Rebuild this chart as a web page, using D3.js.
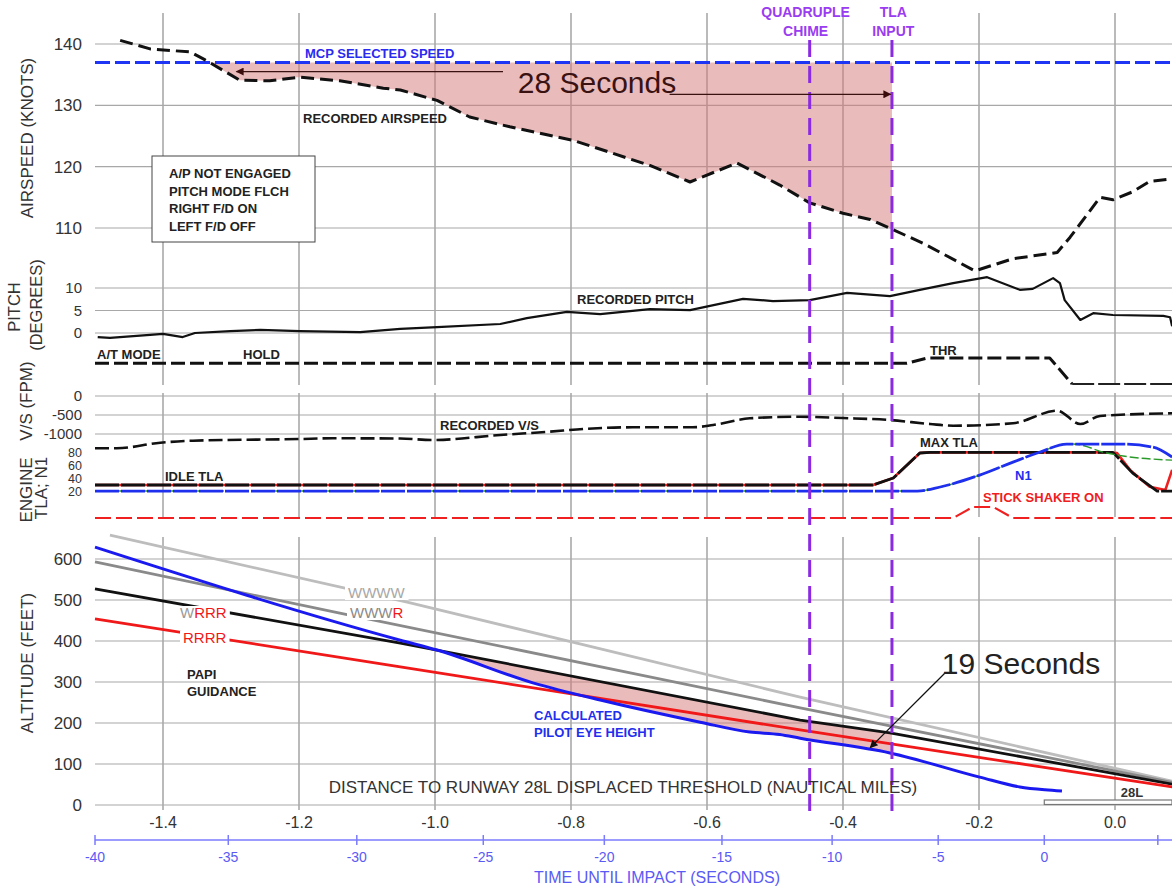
<!DOCTYPE html>
<html>
<head>
<meta charset="utf-8">
<script src="https://cdn.jsdelivr.net/npm/d3@7"></script>
<style>
  body { margin: 0; background: #fff; }
  svg { display: block; font-family: "Liberation Sans", Arial, sans-serif; }
</style>
</head>
<body>
<svg id="chart" width="1172" height="890"></svg>
<script>
// distance to threshold (NM) is the shared x value of every series
const distTicks = [-1.4, -1.2, -1.0, -0.8, -0.6, -0.4, -0.2, 0.0];
const timeTicks = [-40, -35, -30, -25, -20, -15, -10, -5, 0, 5];
const timeTickNM = [-1.5, -1.304, -1.115, -0.929, -0.751, -0.578, -0.416, -0.260, -0.104, 0.063];
const airspeedTicks = [110, 120, 130, 140];
const pitchTicks = [0, 5, 10];
const vsTicks = [0, -500, -1000];
const engineTicks = [20, 40, 60, 80];
const altitudeTicks = [0, 100, 200, 300, 400, 500, 600];

const mcpSpeed = 137;
const quadChimeNM = -0.449;
const tlaInputNM = -0.328;
const speedShadeStartNM = -1.332;
const altShadeStartNM = -0.997;

const airspeedNM  = [-1.463, -1.419, -1.360, -1.338, -1.287, -1.243, -1.199, -1.140, -1.076, -1.051, -0.997, -0.949, -0.890, -0.797, -0.684, -0.625, -0.556, -0.493, -0.449, -0.400, -0.360, -0.328, -0.282, -0.206, -0.150, -0.085, -0.066, -0.022, -0.003, 0.026, 0.051, 0.084];
const airspeedKts = [140.6, 139.2, 138.7, 137.4, 134.1, 134.0, 134.6, 134.0, 132.8, 132.5, 130.8, 128.1, 126.5, 124.3, 120.2, 117.5, 120.6, 117.0, 114.1, 112.4, 111.4, 109.8, 107.5, 103.0, 105.0, 106.0, 108.5, 115.0, 114.6, 115.9, 117.6, 118.0];

const pitchNM  = [-1.496, -1.478, -1.419, -1.400, -1.371, -1.353, -1.301, -1.257, -1.199, -1.110, -1.051, -0.997, -0.904, -0.865, -0.806, -0.757, -0.684, -0.625, -0.547, -0.503, -0.449, -0.394, -0.331, -0.287, -0.238, -0.188, -0.140, -0.121, -0.091, -0.081, -0.074, -0.051, -0.032, -0.003, 0.071, 0.081, 0.084];
const pitchDeg = [-0.9, -1.1, -0.4, -0.2, -0.9, 0.0, 0.4, 0.7, 0.4, 0.2, 0.9, 1.3, 2.0, 3.3, 4.7, 4.2, 5.3, 5.1, 7.6, 7.1, 7.3, 8.9, 8.2, 9.6, 11.1, 12.4, 9.6, 9.8, 12.2, 11.1, 7.3, 2.9, 4.4, 4.0, 3.8, 3.5, 1.5];

// A/T mode as a level: 0 = off, 0.8 = HOLD, 1 = THR
const atModeNM    = [-1.5, -0.306, -0.276, -0.096, -0.063, 0.084];
const atModeLevel = [0.8, 0.8, 1, 1, 0, 0];

const vsNM  = [-1.5, -1.468, -1.404, -1.356, -1.199, -1.150, -1.051, -1.003, -0.904, -0.831, -0.782, -0.709, -0.621, -0.591, -0.537, -0.463, -0.400, -0.331, -0.272, -0.238, -0.150, -0.085, -0.051, -0.022, 0.084];
const vsFpm = [-1376, -1376, -1229, -1176, -1132, -1113, -1120, -1158, -1026, -939, -868, -824, -824, -763, -587, -545, -580, -632, -737, -782, -718, -387, -737, -526, -455];

const tlaLeftNM  = [-1.5, -0.356, -0.326, -0.287, -0.272, -0.003, 0.026, 0.062, 0.084];
const tlaLeft    = [30.8, 30.8, 41.5, 80, 81, 81, 49, 21.5, 21.5];
const tlaRightNM = [-1.5, -0.356, -0.326, -0.287, -0.272, -0.012, 0.003, 0.022, 0.051, 0.074, 0.084];
const tlaRight   = [30.8, 30.8, 41.5, 80, 81, 81, 80, 54, 28, 23, 54];
const n1LeftNM   = [-1.5, -0.291, -0.257, -0.199, -0.150, -0.110, -0.071, 0.012, 0.056, 0.084];
const n1Left     = [21.5, 21.5, 27.7, 46, 66, 81.5, 93.8, 93.8, 89, 73.8];
const n1RightNM  = [-1.5, -0.291, -0.257, -0.199, -0.150, -0.110, -0.071, -0.062, -0.012, 0.012, 0.084];
const n1Right    = [21.5, 21.5, 27.7, 46, 66, 81.5, 93.8, 93.8, 80, 75.4, 69];
const shakerNM   = [-1.5, -0.238, -0.209, -0.179, -0.150, 0.084];
const shakerOn   = [0, 0, 1, 1, 0, 0];

// PAPI guidance lines and calculated eye height (feet)
const papiWWWWnm = [-1.478, -1.041, -0.463, 0.084];
const papiWWWW   = [658, 495, 263, 58];
const papiWWWRnm = [-1.5, -1.140, -0.463, 0.084];
const papiWWWR   = [593, 468, 237, 55];
const papiWRRRnm = [-1.5, -1.051, -0.463, -0.331, 0.084];
const papiWRRR   = [527, 395, 207, 176, 51];
const papiRRRRnm = [-1.5, -1.051, -0.463, 0.084];
const papiRRRR   = [454, 337, 183, 44];
const eyeNM = [-1.5, -1.051, -0.997, -0.856, -0.757, -0.610, -0.537, -0.493, -0.463, -0.331, -0.199, -0.140, -0.103, -0.078];
const eyeFt = [629, 402, 378, 298, 256, 202, 178, 172, 163, 127, 68, 44, 37, 34];

const runwayStartNM = -0.104;

main();

function main() {
  const svg = d3.select("#chart");
  const x = d3.scaleLinear().domain([-1.5, 0]).range([95, 1115]);
  const right = 1172;

  const yAir = d3.scaleLinear().domain([110, 140]).range([228, 44]);
  const yPitch = d3.scaleLinear().domain([0, 10]).range([333, 288]);
  const yAt = d3.scaleLinear().domain([0, 1]).range([384, 358]);
  const yVS = d3.scaleLinear().domain([-1000, 0]).range([434, 396]);
  const yEng = d3.scaleLinear().domain([20, 80]).range([492, 453]);
  const yShake = d3.scaleLinear().domain([0, 1]).range([518, 507]);
  const yAlt = d3.scaleLinear().domain([0, 600]).range([805, 559]);

  const zip = (a, b) => a.map((v, i) => [v, b[i]]);
  const grid = svg.append("g");

  // vertical grid, one span per panel group
  const spans = [[13, 385], [393, 517], [537, 810]];
  for (let s of spans) {
    grid.selectAll(null).data(distTicks).join("line")
      .attr("x1", d => x(d)).attr("x2", d => x(d))
      .attr("y1", s[0]).attr("y2", s[1])
      .attr("stroke", "#8c8c8c").attr("stroke-width", 1.2);
  }

  function hGrid(ticks, y, fmt, size, labelX = 82) {
    grid.selectAll(null).data(ticks).join("line")
      .attr("x1", 95).attr("x2", right)
      .attr("y1", d => y(d)).attr("y2", d => y(d))
      .attr("stroke", "#a8a8a8").attr("stroke-width", 1.2);
    svg.selectAll(null).data(ticks).join("text")
      .attr("x", labelX).attr("y", d => y(d))
      .attr("dy", "0.35em").attr("text-anchor", "end")
      .attr("font-size", size).attr("fill", "#333")
      .text(fmt);
  }
  hGrid(airspeedTicks, yAir, d => d, 17);
  hGrid(pitchTicks, yPitch, d => d, 15);
  hGrid(vsTicks, yVS, d => d, 15);
  hGrid(altitudeTicks, yAlt, d => d, 17);
  svg.selectAll(null).data(engineTicks).join("text")
    .attr("x", 82).attr("y", d => yEng(d)).attr("dy", "0.35em")
    .attr("text-anchor", "end").attr("font-size", 12.5).attr("fill", "#333")
    .text(d => d);

  // y axis titles
  const titles = [
    ["AIRSPEED (KNOTS)", 27, 138, 17],
    ["PITCH", 14, 307, 16.5],
    ["(DEGREES)", 36, 305, 16.5],
    ["V/S (FPM)", 26, 401, 17],
    ["ENGINE", 26, 490, 17],
    ["TLA; N1", 41, 488, 17],
    ["ALTITUDE (FEET)", 27, 663, 17]
  ];
  for (let t of titles) {
    svg.append("text")
      .attr("transform", `translate(${t[1] + 6},${t[2]}) rotate(-90)`)
      .attr("text-anchor", "middle").attr("font-size", t[3]).attr("fill", "#333")
      .text(t[0]);
  }

  // airspeed shading: MCP speed down to recorded airspeed, until TLA input
  const airAt = d3.scaleLinear().domain(airspeedNM).range(airspeedKts);
  const speedShade = [speedShadeStartNM, ...airspeedNM.filter(d => d > speedShadeStartNM && d < tlaInputNM), tlaInputNM];
  svg.append("path")
    .attr("d", d3.area().x(d => x(d)).y0(yAir(mcpSpeed)).y1(d => yAir(airAt(d)))(speedShade))
    .attr("fill", "rgba(214,120,120,0.5)");

  // altitude shading between WRRR path and eye height
  const blackAt = d3.scaleLinear().domain(papiWRRRnm).range(papiWRRR);
  const eyeAt = d3.scaleLinear().domain(eyeNM).range(eyeFt);
  const altShade = [altShadeStartNM, ...eyeNM.concat(papiWRRRnm).filter(d => d > altShadeStartNM && d < tlaInputNM).sort((a, b) => a - b), tlaInputNM];
  svg.append("path")
    .attr("d", d3.area().x(d => x(d)).y0(d => yAlt(blackAt(d))).y1(d => yAlt(eyeAt(d)))(altShade))
    .attr("fill", "rgba(214,120,120,0.5)");

  function drawLine(data, y, color, width, dash, curve = d3.curveLinear) {
    return svg.append("path")
      .attr("d", d3.line().x(d => x(d[0])).y(d => y(d[1])).curve(curve)(data))
      .attr("fill", "none").attr("stroke", color).attr("stroke-width", width)
      .attr("stroke-dasharray", dash).attr("stroke-linejoin", "round");
  }

  // MCP selected speed
  svg.append("line")
    .attr("x1", 95).attr("x2", right)
    .attr("y1", yAir(mcpSpeed)).attr("y2", yAir(mcpSpeed))
    .attr("stroke", "#1f35f5").attr("stroke-width", 3).attr("stroke-dasharray", "15,5");

  drawLine(zip(airspeedNM, airspeedKts), yAir, "#111", 3, "13,6");
  drawLine(zip(pitchNM, pitchDeg), yPitch, "#111", 2.2, null);
  const atData = zip(atModeNM, atModeLevel);
  drawLine(atData.slice(0, 5), yAt, "#111", 3, "14,5");
  drawLine(atData.slice(4), yAt, "#222", 1.8, "22,4");
  drawLine(zip(vsNM, vsFpm), yVS, "#111", 2.6, "14,5", d3.curveMonotoneX);

  // engine
  drawLine(zip(tlaRightNM, tlaRight), yEng, "#f02020", 2.6, null);
  drawLine(zip(tlaLeftNM, tlaLeft), yEng, "#111", 2.8, "24,2");
  drawLine(zip(n1RightNM, n1Right), yEng, "#2a9a2a", 1.4, "9,3", d3.curveMonotoneX);
  drawLine(zip(n1LeftNM, n1Left), yEng, "#1f2fee", 2.8, "24,2", d3.curveMonotoneX);
  drawLine(zip(shakerNM, shakerOn), yShake, "#f02020", 2.2, "16,5");

  // altitude
  drawLine(zip(papiWWWWnm, papiWWWW), yAlt, "#bdbdbd", 2.8, null);
  drawLine(zip(papiWWWRnm, papiWWWR), yAlt, "#8a8a8a", 2.8, null);
  drawLine(zip(papiWRRRnm, papiWRRR), yAlt, "#111", 2.8, null);
  drawLine(zip(papiRRRRnm, papiRRRR), yAlt, "#f01818", 2.8, null);
  drawLine(zip(eyeNM, eyeFt), yAlt, "#1a1af0", 3, null, d3.curveMonotoneX);

  // runway 28L
  svg.append("rect")
    .attr("x", x(runwayStartNM)).attr("y", 800).attr("width", right - x(runwayStartNM)).attr("height", 4.5)
    .attr("fill", "#fff").attr("stroke", "#777").attr("stroke-width", 1.2);
  svg.append("text").attr("x", 1132).attr("y", 797).attr("text-anchor", "middle")
    .attr("font-size", 13).attr("font-weight", "bold").attr("fill", "#333").text("28L");

  // PAPI line labels with a white knock-out behind them
  function papiLabel(px, py, parts) {
    const g = svg.append("g");
    const bg = g.append("rect").attr("fill", "#fff");
    const t = g.append("text").attr("x", px).attr("y", py).attr("font-size", 15);
    for (let p of parts) t.append("tspan").attr("fill", p[1]).text(p[0]);
    const b = t.node().getBBox();
    bg.attr("x", b.x - 3).attr("y", b.y + 2).attr("width", b.width + 6).attr("height", b.height - 3);
  }
  papiLabel(348, 598, [["WWWW", "#a8a8a8"]]);
  papiLabel(350, 618, [["WWW", "#8a8a8a"], ["R", "#f01818"]]);
  papiLabel(180, 618, [["W", "#9a9a9a"], ["RRR", "#f01818"]]);
  papiLabel(183, 643, [["RRRR", "#f01818"]]);

  // event lines
  for (let e of [quadChimeNM, tlaInputNM]) {
    svg.append("line")
      .attr("x1", x(e)).attr("x2", x(e)).attr("y1", 40).attr("y2", 812)
      .attr("stroke", "#8a2be2").attr("stroke-width", 3).attr("stroke-dasharray", "17,9");
  }
  const purple = "#9a3cf0";
  const evLabels = [["QUADRUPLE", quadChimeNM - 0.006, 17], ["CHIME", quadChimeNM - 0.006, 36], ["TLA", tlaInputNM + 0.002, 17], ["INPUT", tlaInputNM + 0.002, 36]];
  for (let l of evLabels) {
    svg.append("text").attr("x", x(l[1])).attr("y", l[2]).attr("text-anchor", "middle")
      .attr("font-size", 14).attr("font-weight", "bold").attr("fill", purple).text(l[0]);
  }

  // bold series labels
  const bold = [
    ["MCP SELECTED SPEED", 305, 58, "#2a2af0"],
    ["RECORDED AIRSPEED", 303, 123, "#222"],
    ["RECORDED PITCH", 577, 304, "#222"],
    ["A/T MODE", 97, 359, "#222"],
    ["HOLD", 243, 359, "#222"],
    ["THR", 930, 355, "#222"],
    ["RECORDED V/S", 440, 430, "#222"],
    ["IDLE TLA", 165, 481, "#222"],
    ["MAX TLA", 920, 447, "#222"],
    ["N1", 1015, 480, "#1f2fee"],
    ["STICK SHAKER ON", 983, 502, "#f02020"],
    ["PAPI", 187, 679, "#222"],
    ["GUIDANCE", 187, 696, "#222"],
    ["CALCULATED", 534, 720, "#1f2fee"],
    ["PILOT EYE HEIGHT", 534, 737, "#1f2fee"]
  ];
  for (let b of bold) {
    svg.append("text").attr("x", b[1]).attr("y", b[2])
      .attr("font-size", 13).attr("font-weight", "bold").attr("fill", b[3]).text(b[0]);
  }

  // status box
  svg.append("rect").attr("x", 152).attr("y", 156).attr("width", 163).attr("height", 86)
    .attr("fill", "#fff").attr("stroke", "#444").attr("stroke-width", 1);
  ["A/P NOT ENGAGED", "PITCH MODE FLCH", "RIGHT F/D ON", "LEFT F/D OFF"].forEach((s, i) => {
    svg.append("text").attr("x", 169).attr("y", 178 + i * 17.7)
      .attr("font-size", 13).attr("font-weight", "bold").attr("fill", "#222").text(s);
  });

  // annotations
  const defs = svg.append("defs");
  function marker(id, color) {
    defs.append("marker").attr("id", id).attr("viewBox", "0 0 10 10")
      .attr("refX", 9).attr("refY", 5).attr("markerWidth", 10).attr("markerHeight", 8)
      .attr("markerUnits", "userSpaceOnUse").attr("orient", "auto")
      .append("path").attr("d", "M0,0L10,5L0,10z").attr("fill", color);
  }
  marker("arrDark", "#3a0c0c");
  marker("arrBlack", "#111");

  const secColor = "#3a1212";
  svg.append("line").attr("x1", x(-0.900)).attr("x2", x(-1.292))
    .attr("y1", yAir(135.5)).attr("y2", yAir(135.5))
    .attr("stroke", secColor).attr("stroke-width", 1.3).attr("marker-end", "url(#arrDark)");
  svg.append("line").attr("x1", x(-0.655)).attr("x2", x(-0.330))
    .attr("y1", yAir(131.8)).attr("y2", yAir(131.8))
    .attr("stroke", secColor).attr("stroke-width", 1.3).attr("marker-end", "url(#arrDark)");
  svg.append("text").attr("x", 597).attr("y", 93).attr("text-anchor", "middle")
    .attr("font-size", 30).attr("fill", secColor).text("28 Seconds");

  svg.append("line").attr("x1", 945).attr("x2", x(-0.360)).attr("y1", 673).attr("y2", yAlt(140))
    .attr("stroke", "#111").attr("stroke-width", 1.3).attr("marker-end", "url(#arrBlack)");
  svg.append("text").attr("x", 1021).attr("y", 674).attr("text-anchor", "middle")
    .attr("font-size", 30).attr("fill", "#222").text("19 Seconds");

  svg.append("text").attr("x", 623).attr("y", 793).attr("text-anchor", "middle")
    .attr("font-size", 17).attr("fill", "#333")
    .text("DISTANCE TO RUNWAY 28L DISPLACED THRESHOLD (NAUTICAL MILES)");

  // distance axis labels
  svg.selectAll(null).data(distTicks).join("text")
    .attr("x", d => x(d)).attr("y", 828).attr("text-anchor", "middle")
    .attr("font-size", 16).attr("fill", "#333")
    .text(d => d.toFixed(1));

  // time until impact axis, placed on the distance scale
  const blue = "#5a5af5";
  const tAxis = svg.append("g");
  tAxis.append("line").attr("x1", 95).attr("x2", right).attr("y1", 840).attr("y2", 840)
    .attr("stroke", "#7b7bff").attr("stroke-width", 1.5);
  const tt = zip(timeTicks, timeTickNM);
  tAxis.selectAll(null).data(tt).join("line")
    .attr("x1", d => x(d[1])).attr("x2", d => x(d[1])).attr("y1", 835).attr("y2", 845)
    .attr("stroke", "#7b7bff").attr("stroke-width", 1.5);
  tAxis.selectAll(null).data(tt.filter(d => d[0] <= 0)).join("text")
    .attr("x", d => x(d[1])).attr("y", 862).attr("text-anchor", "middle")
    .attr("font-size", 14).attr("fill", blue).text(d => d[0]);
  tAxis.append("text").attr("x", 657).attr("y", 883).attr("text-anchor", "middle")
    .attr("font-size", 16).attr("fill", blue).text("TIME UNTIL IMPACT (SECONDS)");
}
</script>
</body>
</html>
